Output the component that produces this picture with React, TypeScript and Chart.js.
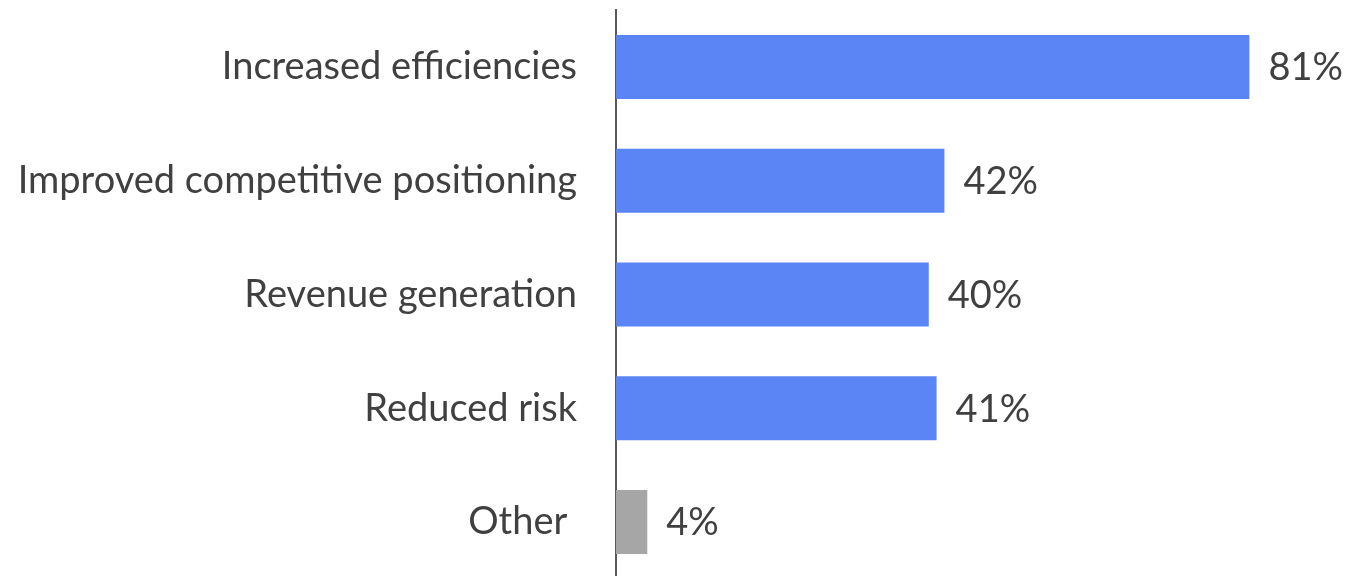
import React, { useEffect, useRef } from "react";
import { Chart, registerables } from "chart.js";

Chart.register(...registerables);

const categories = [
  "Increased efficiencies",
  "Improved competitive positioning",
  "Revenue generation",
  "Reduced risk",
  "Other ",
];
const values = [81, 42, 40, 41, 4];
const barColors = ["#5B84F5", "#5B84F5", "#5B84F5", "#5B84F5", "#A6A6A6"];
const valueLabels = ["81%", "42%", "40%", "41%", "4%"];

const FONT = "Lato, 'Open Sans', sans-serif";
const FONT_SIZE = 38;
const TEXT_COLOR = "#404040";

export default function App() {
  const ref = useRef<HTMLCanvasElement | null>(null);

  useEffect(() => {
    document.documentElement.style.overflow = "hidden";
    const canvas = ref.current;
    if (!canvas) return;

    const valueLabelPlugin = {
      id: "valueLabels",
      afterDatasetsDraw(chart: any) {
        const ctx = chart.ctx;
        const meta = chart.getDatasetMeta(0);
        ctx.save();
        ctx.font = `${FONT_SIZE}px ${FONT}`;
        ctx.fillStyle = TEXT_COLOR;
        ctx.textAlign = "left";
        ctx.textBaseline = "middle";
        meta.data.forEach((bar: any, i: number) => {
          ctx.fillText(valueLabels[i], bar.x + 19, bar.y + 1);
        });
        ctx.restore();
      },
    };

    const chart = new Chart(canvas, {
      type: "bar",
      data: {
        labels: categories,
        datasets: [
          {
            data: values,
            backgroundColor: barColors,
            borderWidth: 0,
            categoryPercentage: 1,
            barPercentage: 0.5624,
          },
        ],
      },
      options: {
        indexAxis: "y",
        animation: false,
        responsive: false,
        maintainAspectRatio: false,
        layout: { padding: { top: 2, bottom: 0, left: 0, right: 0 } },
        plugins: {
          legend: { display: false },
          tooltip: { enabled: false },
        },
        scales: {
          x: {
            display: false,
            min: 0,
            max: 95.4,
            grid: { display: false },
          },
          y: {
            grid: { display: false, drawTicks: false },
            border: { display: true, color: "#595959", width: 2 },
            ticks: {
              color: TEXT_COLOR,
              padding: 39,
              font: { family: FONT, size: FONT_SIZE },
            },
            afterFit(scale: any) {
              scale.width = 608;
              scale.paddingTop = 0;
              scale.paddingBottom = 0;
            },
          },
        },
      },
      plugins: [valueLabelPlugin],
    });

    return () => chart.destroy();
  }, []);

  return (
    <canvas
      ref={ref}
      width={1354}
      height={571}
      style={{ display: "block", width: 1354, height: 571 }}
    />
  );
}
